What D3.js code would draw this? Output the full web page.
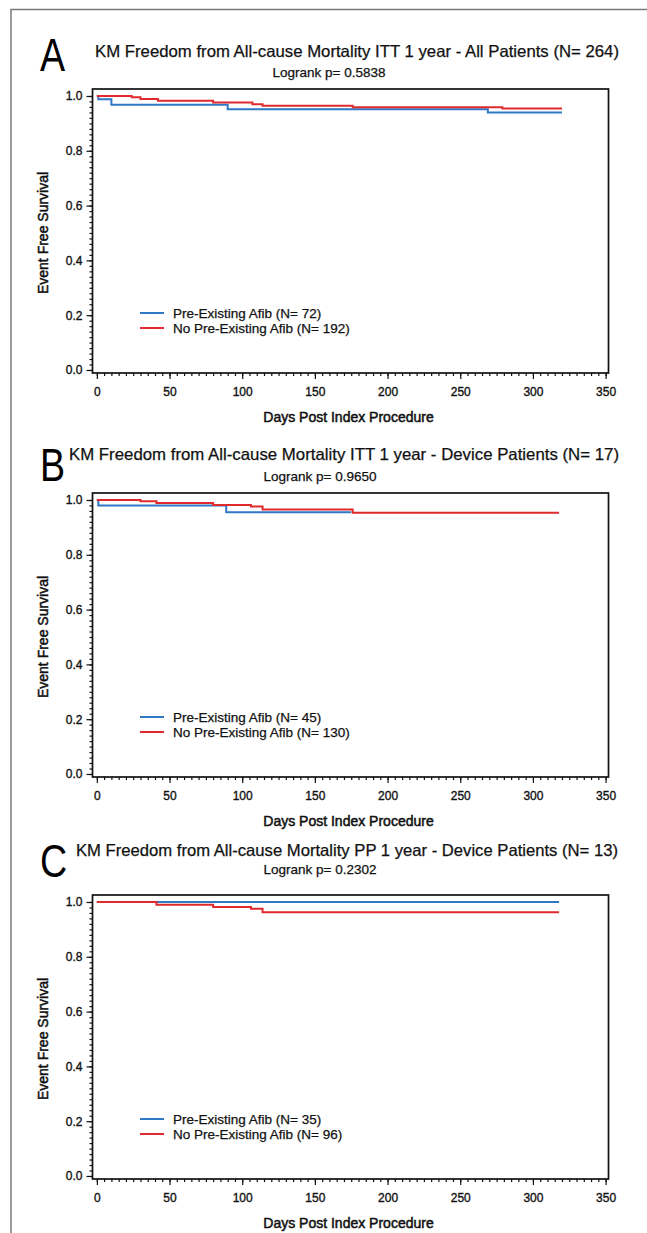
<!DOCTYPE html>
<html>
<head>
<meta charset="utf-8">
<script src="https://cdn.jsdelivr.net/npm/d3@7"></script>
<style>
  html, body { margin: 0; padding: 0; background: #fff; }
  svg { display: block; font-family: "Liberation Sans", Arial, Helvetica, sans-serif; }
</style>
</head>
<body>
<div id="chart"></div>
<script>
// panel texts
const panelLetters = ["A", "B", "C"];
const panelTitles = [
  "KM Freedom from All-cause Mortality ITT 1 year - All Patients (N= 264)",
  "KM Freedom from All-cause Mortality ITT 1 year - Device Patients (N= 17)",
  "KM Freedom from All-cause Mortality PP 1 year - Device Patients (N= 13)"
];
const logrankTexts = ["Logrank p= 0.5838", "Logrank p= 0.9650", "Logrank p= 0.2302"];
const legendPre = ["Pre-Existing Afib (N= 72)", "Pre-Existing Afib (N= 45)", "Pre-Existing Afib (N= 35)"];
const legendNo = ["No Pre-Existing Afib (N= 192)", "No Pre-Existing Afib (N= 130)", "No Pre-Existing Afib (N= 96)"];

// axes
const xTicks = [0, 50, 100, 150, 200, 250, 300, 350];
const yTicks = [0, 0.2, 0.4, 0.6, 0.8, 1.0];
const xLabel = "Days Post Index Procedure";
const yLabel = "Event Free Survival";

// KM step data (day of step, survival after it)
const preDaysA = [0, 1, 10, 90, 269, 320];
const preSurvA = [1, 0.988, 0.968, 0.952, 0.940, 0.940];
const noDaysA = [0, 24, 30, 42, 80, 107, 114, 176, 279, 320];
const noSurvA = [1, 0.995, 0.989, 0.983, 0.976, 0.970, 0.964, 0.959, 0.954, 0.954];

const preDaysB = [0, 1, 89, 175];
const preSurvB = [1, 0.980, 0.955, 0.955];
const noDaysB = [0, 30, 41, 80, 106, 114, 176, 318];
const noSurvB = [1, 0.995, 0.989, 0.982, 0.976, 0.965, 0.953, 0.953];

const preDaysC = [0, 318];
const preSurvC = [1, 1];
const noDaysC = [0, 41, 80, 106, 114, 318];
const noSurvC = [1, 0.990, 0.982, 0.975, 0.963, 0.963];

const panels = [
  { pre: [preDaysA, preSurvA], no: [noDaysA, noSurvA] },
  { pre: [preDaysB, preSurvB], no: [noDaysB, noSurvB] },
  { pre: [preDaysC, preSurvC], no: [noDaysC, noSurvC] }
];

const blue = "#2f78c6";
const red = "#e02a2e";
const ink = "#111";

const W = 647, H = 1233;
const svg = d3.select("#chart").append("svg")
  .attr("width", W)
  .attr("height", H);

svg.append("rect").attr("width", W).attr("height", H).attr("fill", "#fff");

// figure border (top + left only)
svg.append("path")
  .attr("d", `M11,${H} V9.5 H${W}`)
  .attr("fill", "none")
  .attr("stroke", "#7a7a7a")
  .attr("stroke-width", 1.5);

const frameL = 92.5, frameW = 516, frameH = 284;
const panelTop = [89, 493, 895];
const titleY = [57, 460, 856];
const logrankY = [77, 481, 874];
const letterY = [71, 481, 877];
const titleX = [95, 69, 76];
const titleLen = [524, 550, 542];
const logrankX = [329, 320, 320];

const x = d3.scaleLinear().domain([-3, 352]).range([0, frameW]);
const y = d3.scaleLinear().domain([-0.011, 1.0255]).range([frameH, 0]);

const line = d3.line()
  .x(d => x(d[0]))
  .y(d => y(d[1]))
  .curve(d3.curveStepAfter);

// slightly heavier text, like the source rendering
function heavy(sel, w) {
  return sel.attr("stroke", ink).attr("stroke-width", w).attr("paint-order", "stroke");
}

panels.forEach((p, i) => {
  const g = svg.append("g")
    .attr("transform", `translate(${frameL},${panelTop[i]})`);

  // letter + titles
  svg.append("text")
    .attr("transform", `translate(40,${letterY[i]}) scale(0.8,1)`)
    .attr("font-size", 47)
    .text(panelLetters[i]);

  heavy(svg.append("text")
    .attr("x", titleX[i]).attr("y", titleY[i])
    .attr("font-size", 16.5)
    .attr("fill", ink)
    .attr("textLength", titleLen[i])
    .attr("lengthAdjust", "spacingAndGlyphs")
    .text(panelTitles[i]), 0.25);

  heavy(svg.append("text")
    .attr("x", logrankX[i]).attr("y", logrankY[i])
    .attr("text-anchor", "middle")
    .attr("font-size", 13.5)
    .attr("fill", ink)
    .text(logrankTexts[i]), 0.25);

  // axes
  const xMinor = g.append("g")
    .attr("transform", `translate(0,${frameH})`)
    .call(d3.axisBottom(x).tickValues(d3.range(0, 351, 5)).tickSize(3).tickFormat(""));
  const xMajor = g.append("g")
    .attr("transform", `translate(0,${frameH})`)
    .call(d3.axisBottom(x).tickValues(xTicks).tickSize(6).tickPadding(8));
  const yMinor = g.append("g")
    .call(d3.axisLeft(y).tickValues(d3.range(0, 51).map(k => k * 0.02)).tickSize(3).tickFormat(""));
  const yMajor = g.append("g")
    .call(d3.axisLeft(y).tickValues(yTicks).tickSize(6).tickPadding(4).tickFormat(d3.format(".1f")));

  [xMinor, xMajor, yMinor, yMajor].forEach(a => {
    a.select(".domain").remove();
    a.selectAll("line").attr("stroke", ink).attr("stroke-width", 1.2);
    heavy(a.selectAll("text")
      .attr("fill", ink)
      .style("font-size", "12px")
      .style("font-family", "'Liberation Sans', Arial, sans-serif"), 0.35);
  });

  // frame
  g.append("rect")
    .attr("width", frameW)
    .attr("height", frameH)
    .attr("fill", "none")
    .attr("stroke", ink)
    .attr("stroke-width", 1.7);

  // axis titles
  heavy(g.append("text")
    .attr("x", frameW / 2 - 2)
    .attr("y", frameH + 49)
    .attr("text-anchor", "middle")
    .attr("font-size", 14)
    .attr("fill", ink)
    .text(xLabel), 0.5);

  heavy(g.append("text")
    .attr("transform", `rotate(-90)`)
    .attr("x", -(y(0) + y(1)) / 2)
    .attr("y", 48 - frameL)
    .attr("text-anchor", "middle")
    .attr("font-size", 14)
    .attr("fill", ink)
    .text(yLabel), 0.5);

  // curves (red on top)
  const preData = p.pre[0].map((d, k) => [d, p.pre[1][k]]);
  const noData = p.no[0].map((d, k) => [d, p.no[1][k]]);

  g.append("path")
    .datum(preData)
    .attr("d", line)
    .attr("fill", "none")
    .attr("stroke", blue)
    .attr("stroke-width", 2);

  g.append("path")
    .datum(noData)
    .attr("d", line)
    .attr("fill", "none")
    .attr("stroke", red)
    .attr("stroke-width", 2);

  // legend
  const leg = g.append("g").attr("transform", `translate(${140 - frameL},${y(0) - 57})`);
  [[blue, legendPre[i]], [red, legendNo[i]]].forEach((row, k) => {
    leg.append("line")
      .attr("x1", 0).attr("x2", 24)
      .attr("y1", k * 15).attr("y2", k * 15)
      .attr("stroke", row[0])
      .attr("stroke-width", 2);
    heavy(leg.append("text")
      .attr("x", 33).attr("y", k * 15)
      .attr("dy", "0.36em")
      .attr("font-size", 13.5)
      .attr("fill", ink)
      .text(row[1]), 0.25);
  });
});
</script>
</body>
</html>
